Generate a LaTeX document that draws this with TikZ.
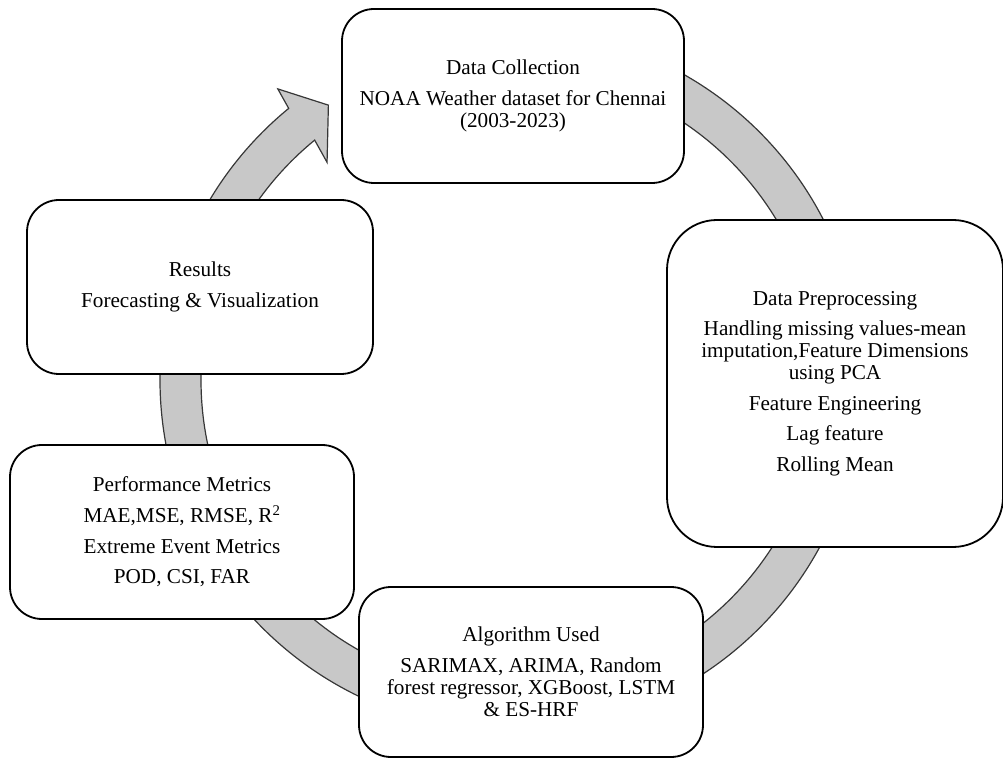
\documentclass[tikz,border=0pt]{standalone}
\usepackage{fontspec}
\setmainfont{Liberation Serif}
\definecolor{ringfill}{RGB}{200,200,200}
\definecolor{ringline}{RGB}{55,55,55}
\tikzset{
  stagebox/.style={draw=black, line width=1.8pt, fill=white, rounded corners=32pt,
    inner sep=0pt, align=center, font=\fontsize{21.2}{22}\selectfont},
  ringarrow/.style={fill=ringfill, draw=ringline, line width=1.2pt, line join=miter}
}
\newcommand{\pgap}{\\[8.6pt]}
\begin{document}
\begin{tikzpicture}[x=1pt,y=1pt]
\useasboundingbox (0,0) rectangle (1003,758);
\coordinate (C) at (511,378);
% circular arrow
\path[ringarrow]
  ([shift={(100:351pt)}]C) arc[start angle=100, end angle=-230.7, radius=351pt]
  -- ([shift={(128.7:373pt)}]C)
  -- ([shift={(123.6:330pt)}]C)
  -- ([shift={(130.2:285pt)}]C)
  -- ([shift={(129.3:310pt)}]C)
  arc[start angle=-230.7, end angle=100, radius=310pt]
  -- cycle;
% boxes
\node[stagebox, minimum width=342pt, minimum height=174pt] (dc) at (513,662)
  {Data Collection\pgap NOAA Weather dataset for Chennai\\ (2003-2023)};
\node[stagebox, rounded corners=50pt, minimum width=336pt, minimum height=327pt] (pp) at (835,374.5)
  {Data Preprocessing\pgap Handling missing values-mean\\ imputation,Feature Dimensions\\ using PCA\pgap Feature Engineering\pgap Lag feature\pgap Rolling Mean};
\node[stagebox, minimum width=344pt, minimum height=170pt] (al) at (531,86)
  {Algorithm Used\pgap SARIMAX, ARIMA, Random\\ forest regressor, XGBoost, LSTM\\ \& ES-HRF};
\node[stagebox, minimum width=344pt, minimum height=174pt] (pm) at (182,226)
  {Performance Metrics\pgap MAE,MSE, RMSE, R\textsuperscript{2}\pgap Extreme Event Metrics\pgap POD, CSI, FAR};
\node[stagebox, minimum width=346pt, minimum height=174pt] (rs) at (200,471)
  {Results\pgap Forecasting \& Visualization};
\end{tikzpicture}
\end{document}
